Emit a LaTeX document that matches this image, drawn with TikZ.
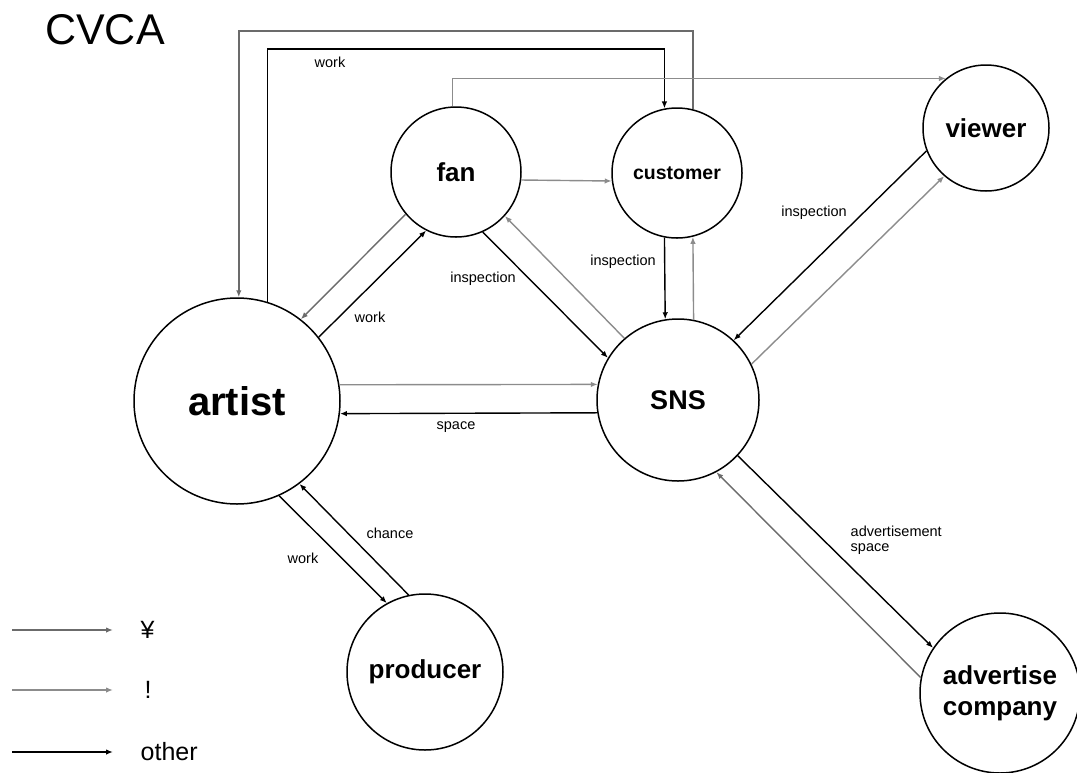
\documentclass[tikz,border=0pt]{standalone}
\usepackage{fontspec}
\setmainfont{Liberation Sans}
\usetikzlibrary{arrows.meta}

\begin{document}
\begin{tikzpicture}[x=1pt,y=-1pt,line width=1.4pt,>={Latex[length=7pt,width=5.5pt]},ent/.style 2 args={circle,draw,line width=1.5pt,minimum size=#1pt,inner sep=0pt,align=center,font=\bfseries\fontsize{#2}{31}\selectfont},yen/.style={->,draw=black!58},bang/.style={->,draw=black!45},other/.style={->,draw=black},lbl/.style={font=\fontsize{14.5}{15}\selectfont,inner sep=0pt,align=left},key/.style={anchor=west,inner sep=0pt,font=\fontsize{25}{25}\selectfont}]
\useasboundingbox (0,0) rectangle (1077,772);
\node[font=\fontsize{43}{43}\selectfont,inner sep=0pt] (title) at (105,30) {CVCA};
\node[ent={206}{40}] (artist) at (237,401) {artist};
\node[ent={130}{26}] (fan) at (456,172) {fan};
\node[ent={130}{19.5}] (customer) at (677,173) {customer};
\node[ent={126}{26}] (viewer) at (986,128) {viewer};
\node[ent={162}{27}] (sns) at (678,400) {SNS};
\node[ent={156}{26}] (producer) at (425,672) {producer};
\node[ent={160}{26}] (adco) at (1000,693) {advertise\\company};
\coordinate (topYen) at (0,31);
\coordinate (topWork) at (0,49);
\draw[yen] (customer.76) -- (customer.76 |- topYen) -| (artist.89);
\draw[other] (artist.73) -- (artist.73 |- topWork) -| (customer.101);
\draw[bang] (fan.93) |- (viewer.129);
\draw[bang] (fan.-7) -- (customer.187);
\draw[yen] (fan.220) -- (artist.52);
\draw[other] (artist.38) -- (fan.243);
\draw[other] (fan.-66) -- (sns.149);
\draw[bang] (sns.131) -- (fan.-42);
\draw[other] (customer.-101) -- (sns.99);
\draw[bang] (sns.79) -- (customer.-76);
\draw[other] (viewer.201) -- (sns.47);
\draw[bang] (sns.26) -- (viewer.229);
\draw[bang] (artist.9) -- (sns.169);
\draw[other] (sns.189) -- (artist.-7);
\draw[other] (artist.-66) -- (producer.119);
\draw[other] (producer.102) -- (artist.-53);
\draw[other] (sns.-43) -- (adco.146);
\draw[yen] (adco.169) -- (sns.-62);
\node[lbl] (workTop) at (330,62) {work};
\node[lbl] (workFan) at (370,317) {work};
\node[lbl] (inspFan) at (483,279) {inspection};
\node[lbl] (inspCust) at (623,262) {inspection};
\node[lbl] (inspView) at (814,213) {inspection};
\node[lbl] (spaceArt) at (456,427) {space};
\node[lbl] (chanceProd) at (390,533) {chance};
\node[lbl] (workProd) at (303,558) {work};
\node[lbl,anchor=west] (adSpace) at (850,540) {advertisement\\space};
\node[key] (keyYen) at (140,630) {¥};
\node[key] (keyBang) at (144,690) {!};
\node[key] (keyOther) at (140,752) {other};
\coordinate (keyYenFrom) at (12,630);
\coordinate (keyBangFrom) at (12,690);
\coordinate (keyOtherFrom) at (12,752);
\draw[yen,shorten >=27pt] (keyYenFrom) -- (keyYen.west);
\draw[bang,shorten >=31pt] (keyBangFrom) -- (keyBang.west);
\draw[other,shorten >=27pt] (keyOtherFrom) -- (keyOther.west);
\end{tikzpicture}
\end{document}
